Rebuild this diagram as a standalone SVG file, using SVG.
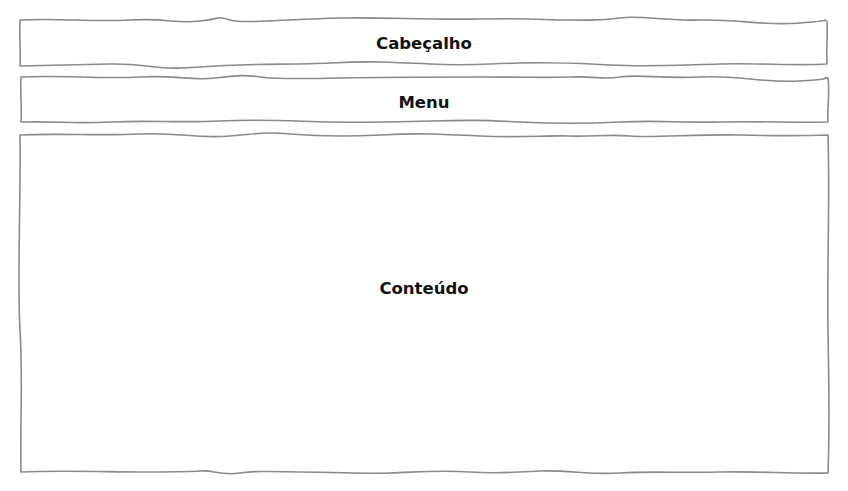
<svg xmlns="http://www.w3.org/2000/svg" width="848" height="491" viewBox="0 0 848 491">
<style>
.b{fill:none;stroke:#8a8a8a;stroke-width:1.6;stroke-linejoin:round;stroke-linecap:round}
.t{font-family:"Comic Sans MS","DejaVu Sans",sans-serif;font-weight:bold;font-size:16.5px;fill:#111;text-anchor:middle}
</style>
<rect width="848" height="491" fill="#fff"/>
<g id="cabecalho">
<path class="b" d="M20,20 C60,18 90,22 130,20 S175,24 200,21 S215,16 230,20 S290,19 340,18 S420,20 480,19 S540,20 570,20 S600,21 620,18 S660,21 700,20 S760,26 800,23 S818,19 827,21 C828,35 826,50 827,64 C800,66 760,63 720,64 S650,67 610,65 S560,62 520,63 S470,66 430,64 S370,61 330,63 S250,63 200,67 S150,63 110,64 S60,65 20,66 C21,52 19,35 20,20 Z"/>
<text class="t" x="424" y="49">Cabeçalho</text>
</g>
<g id="menu">
<path class="b" d="M21,77 C60,75 100,79 140,77 S190,81 215,78 S245,75 260,77 S300,79 340,78 S420,77 480,77 S540,78 570,77 S600,80 620,77 S660,79 700,77 S760,83 800,81 S818,77 828,78 C830,92 827,108 828,122 C800,123 760,121 720,122 S660,120 620,122 S560,124 520,122 S470,120 430,121 S370,123 330,122 S260,119 220,121 S150,120 110,122 S60,121 21,122 C22,108 20,92 21,77 Z"/>
<text class="t" x="424" y="108">Menu</text>
</g>
<g id="conteudo">
<path class="b" d="M20,135 C60,133 100,136 140,134 S195,139 230,136 S265,132 290,134 S340,137 380,135 S440,134 480,136 S550,135 570,136 S610,134 630,136 S700,134 740,135 S800,136 828,135 C830,200 827,260 828,330 S830,420 828,473 C790,474 760,471 720,472 S650,471 620,473 S570,470 540,471 S500,474 470,472 S420,472 390,473 S340,472 300,472 S260,470 240,473 S215,470 200,471 S170,472 140,472 S60,470 21,472 C20,420 23,380 20,330 S21,200 20,135 Z"/>
<text class="t" x="424" y="294">Conteúdo</text>
</g>
<g id="connectors"/>
</svg>
